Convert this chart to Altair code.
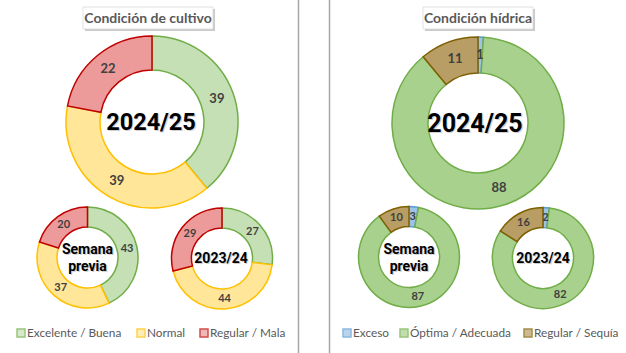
import altair as alt
import pandas as pd

# ---------------- data ----------------
crop_cats = ["Excelente / Buena", "Normal", "Regular / Mala"]
crop_now = [39, 39, 22]
crop_prev = [43, 37, 20]
crop_last = [27, 44, 29]

water_cats = ["Exceso", "Óptima / Adecuada", "Regular / Sequía"]
water_now = [1, 88, 11]
water_prev = [3, 87, 10]
water_last = [2, 82, 16]

titles = ["Condición de cultivo", "Condición hídrica"]
center_big = "2024/25"
center_prev = ["Semana", "previa"]
center_last = "2023/24"

# ---------------- styles ----------------
all_cats = crop_cats + water_cats
fills = ["#c5e0b4", "#ffe699", "#ec9a9a", "#9dc3e6", "#a9d18e", "#b89d64"]
strokes = ["#70ad47", "#ffc000", "#c00000", "#5b9bd5", "#70ad47", "#7f6000"]
fill_scale = alt.Scale(domain=all_cats, range=fills)
stroke_scale = alt.Scale(domain=all_cats, range=strokes)

W, H = 626, 353


def donut(cats, vals, cx, cy, r_out, r_in, fsize):
    df = pd.DataFrame({"cat": cats, "val": vals, "ord": list(range(len(cats)))})
    base = alt.Chart(df).encode(
        theta=alt.Theta("val:Q", stack=True, scale=alt.Scale(domain=[0, 100])),
        order=alt.Order("ord:Q"),
        x=alt.value(cx),
        y=alt.value(cy),
    )
    arc = base.mark_arc(radius=r_out, radius2=r_in, strokeWidth=1.5).encode(
        fill=alt.Fill("cat:N", scale=fill_scale, legend=None),
        stroke=alt.Stroke("cat:N", scale=stroke_scale, legend=None),
    )
    txt = base.mark_text(
        radius=(r_out + r_in) / 2, font="Lato", fontWeight="bold",
        fontSize=fsize, color="#404040"
    ).encode(text="val:Q")
    return [arc, txt]


def center_text(lines, cx, cy, size, dy_line=0):
    n = len(lines)
    layers = []
    for i, t in enumerate(lines):
        y = cy + (i - (n - 1) / 2) * dy_line
        df = pd.DataFrame({"t": [t]})
        layers.append(
            alt.Chart(df).mark_text(
                font="Roboto", fontWeight="bold", fontSize=size, color="#000000",
                opacity=0.18, baseline="middle", align="center"
            ).encode(text="t:N", x=alt.value(cx + 1.2), y=alt.value(y + 1.2))
        )
        layers.append(
            alt.Chart(df).mark_text(
                font="Roboto", fontWeight="bold", fontSize=size, color="#000000",
                baseline="middle", align="center"
            ).encode(text="t:N", x=alt.value(cx), y=alt.value(y))
        )
    return layers


def title_box(text, x1, x2, y1, y2):
    df = pd.DataFrame({"t": [text]})
    shadow = alt.Chart(df).mark_rect(fill="#bdbdbd", opacity=0.8).encode(
        x=alt.value(x1 + 2), x2=alt.value(x2 + 2), y=alt.value(y1 + 2), y2=alt.value(y2 + 2))
    box = alt.Chart(df).mark_rect(fill="white", stroke="#d9d9d9", strokeWidth=0.8).encode(
        x=alt.value(x1), x2=alt.value(x2), y=alt.value(y1), y2=alt.value(y2))
    txt = alt.Chart(df).mark_text(
        font="Lato", fontWeight="bold", fontSize=14, color="#595959",
        baseline="middle", align="center"
    ).encode(text="t:N", x=alt.value((x1 + x2) / 2), y=alt.value((y1 + y2) / 2 + 0.5))
    return [shadow, box, txt]


def legend(cats, xs, y):
    layers = []
    for c, x in zip(cats, xs):
        df = pd.DataFrame({"cat": [c]})
        layers.append(
            alt.Chart(df).mark_square(size=64, filled=True, strokeWidth=1.5).encode(
                x=alt.value(x), y=alt.value(y),
                fill=alt.Fill("cat:N", scale=fill_scale, legend=None),
                stroke=alt.Stroke("cat:N", scale=stroke_scale, legend=None),
            )
        )
        layers.append(
            alt.Chart(df).mark_text(
                font="Lato", fontSize=11.8, color="#595959", align="left", baseline="middle"
            ).encode(text="cat:N", x=alt.value(x + 6), y=alt.value(y))
        )
    return layers


layers = []
# background
layers.append(alt.Chart(pd.DataFrame({"a": [0]})).mark_rect(fill="white").encode(
    x=alt.value(0), x2=alt.value(W), y=alt.value(0), y2=alt.value(H)))
# dividers
for xv in [298.5, 329.5]:
    layers.append(alt.Chart(pd.DataFrame({"a": [0]})).mark_rule(color="#a6a6a6", strokeWidth=1.5).encode(
        x=alt.value(xv), y=alt.value(0), y2=alt.value(H)))

# titles
layers += title_box(titles[0], 83, 213, 7, 29)
layers += title_box(titles[1], 423, 533, 7, 29)

# crop donuts
layers += donut(crop_cats, crop_now, 152, 122, 86, 52, 13)
layers += donut(crop_cats, crop_prev, 87.5, 257.5, 50.5, 30.5, 11)
layers += donut(crop_cats, crop_last, 222, 258.5, 50.5, 30.5, 11)
# water donuts
layers += donut(water_cats, water_now, 478, 123, 86, 50, 13)
layers += donut(water_cats, water_prev, 409, 257, 50.5, 30.5, 11)
layers += donut(water_cats, water_last, 543, 258, 50.5, 30.5, 11)

# center labels
layers += center_text([center_big], 151, 123, 23.5)
layers += center_text([center_big], 475, 124, 25)
layers += center_text(center_prev, 87.5, 258, 14, 17)
layers += center_text([center_last], 221, 259, 14)
layers += center_text(center_prev, 409, 258, 14, 17)
layers += center_text([center_last], 543, 259, 14)

# legends
layers += legend(crop_cats, [21, 141, 204], 333)
layers += legend(water_cats, [347, 404, 528], 333)

chart = alt.layer(*layers).properties(
    width=W, height=H, autosize=alt.AutoSizeParams(type="none"), padding=0
).configure_view(stroke=None)

chart.save("out.html", embed_options={"renderer": "svg", "actions": False})
